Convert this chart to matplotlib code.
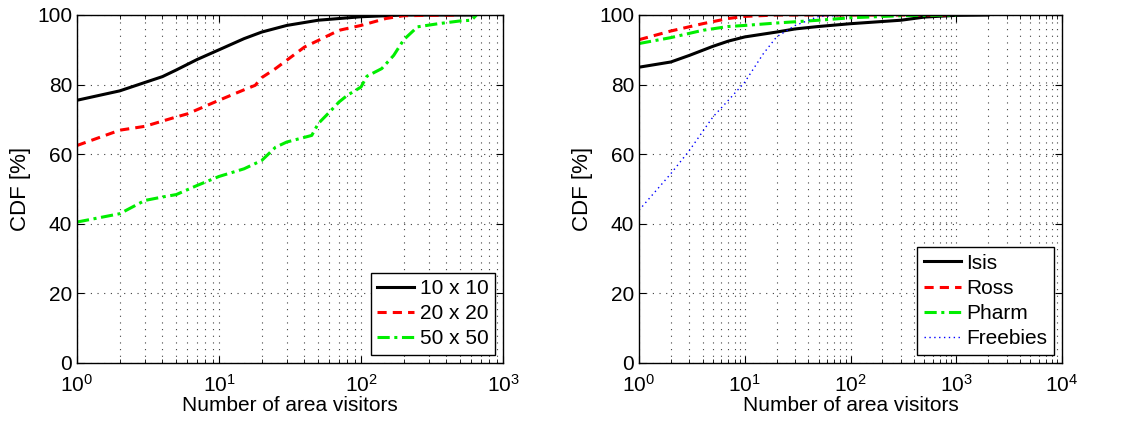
import numpy as np
import matplotlib
matplotlib.use('Agg')
import matplotlib.pyplot as plt
from matplotlib.ticker import LogLocator, NullFormatter

plt.rcParams['font.family'] = ['Liberation Sans', 'DejaVu Sans']
plt.rcParams['mathtext.fontset'] = 'custom'
plt.rcParams['mathtext.rm'] = 'Liberation Sans'

# left panel: grid sizes
x_10 = [1, 2, 3, 4, 5, 7, 10, 15, 20, 30, 50, 100, 200, 600]
y_10 = [75.5, 78.2, 80.6, 82.3, 84.2, 87.2, 90.0, 93.2, 95.1, 97.0, 98.5, 99.5, 100, 100]

x_20 = [1, 2, 3, 5, 6, 10, 15, 18, 20, 25, 30, 40, 50, 70, 100, 150, 200, 500]
y_20 = [62.5, 66.9, 68.0, 70.7, 71.6, 75.5, 78.5, 79.8, 82.0, 84.6, 87.0, 90.8, 92.7, 95.6, 97.0, 99.0, 99.8, 100]

x_50 = [1, 2, 3, 4, 5, 7, 10, 15, 20, 25, 30, 45, 50, 60, 70, 80, 100, 110,
        140, 170, 200, 250, 350, 500, 600, 650]
y_50 = [40.5, 42.9, 46.7, 47.7, 48.4, 51.0, 53.6, 55.8, 58.2, 62.0, 63.5, 65.4,
        68.8, 72.1, 75.0, 76.9, 79.3, 82.4, 84.6, 88.4, 92.9, 96.6, 97.5, 98.3, 98.5, 100]

# right panel: datasets
x_isis = [1, 2, 3, 5, 7, 10, 20, 30, 50, 100, 300, 500, 1000, 2000]
y_isis = [85.0, 86.5, 88.4, 91.0, 92.5, 93.7, 95.1, 96.0, 96.7, 97.5, 98.5, 99.4, 99.9, 100]

x_ross = [1, 2, 4, 7, 10, 20, 100, 800]
y_ross = [92.9, 95.4, 97.5, 99.0, 99.6, 100, 100, 100]

x_pharm = [1, 2, 4, 7, 10, 20, 50, 100, 300, 1000]
y_pharm = [91.8, 93.5, 95.6, 96.7, 97.0, 97.7, 98.5, 99.2, 99.8, 100]

x_free = [1, 2, 3, 5, 7, 10, 15, 20, 30, 50, 100]
y_free = [43.9, 54.4, 61.1, 70.7, 75.5, 80.7, 88.9, 93.7, 97.0, 99.6, 100]

fig = plt.figure(figsize=(11.26, 4.24), dpi=100)
ax1 = fig.add_axes([77 / 1126, 1 - 363 / 424, 426 / 1126, 348 / 424])
ax2 = fig.add_axes([639 / 1126, 1 - 363 / 424, 423 / 1126, 348 / 424])

ax1.plot(x_10, y_10, '-', color='black', lw=2.2, label='10 x 10')
ax1.plot(x_20, y_20, '--', color='red', lw=2.2, dashes=(3, 2), label='20 x 20')
ax1.plot(x_50, y_50, '-.', color='#00ee00', lw=2.2, dashes=(4, 1.5, 1, 1.5), label='50 x 50')

ax2.plot(x_isis, y_isis, '-', color='black', lw=2.2, label='Isis')
ax2.plot(x_ross, y_ross, '--', color='red', lw=2.2, dashes=(3, 2), label='Ross')
ax2.plot(x_pharm, y_pharm, '-.', color='#00ee00', lw=2.2, dashes=(4, 1.5, 1, 1.5), label='Pharm')
ax2.plot(x_free, y_free, ':', color='blue', lw=1.0, dashes=(1, 2.5), label='Freebies')

for ax, xmax in [(ax1, 1e3), (ax2, 1e4)]:
    ax.set_xscale('log')
    ax.set_xlim(1, xmax)
    ax.set_ylim(0, 100)
    ax.set_yticks([0, 20, 40, 60, 80, 100])
    ax.xaxis.set_major_locator(LogLocator(base=10, numticks=10))
    ax.xaxis.set_minor_locator(LogLocator(base=10, subs=np.arange(2, 10), numticks=50))
    ax.xaxis.set_minor_formatter(NullFormatter())
    ax.grid(True, which='major', linestyle=(0, (1, 5)), color='0.25', lw=0.8)
    ax.grid(True, which='minor', axis='x', linestyle=(0, (1, 5)), color='0.25', lw=0.8)
    ax.set_axisbelow(True)
    ax.tick_params(which='both', direction='in', top=True, right=True, labelsize=15)
    ax.tick_params(which='major', length=5)
    ax.tick_params(which='minor', length=3)
    ax.tick_params(axis='x', pad=8)
    ax.set_xlabel('Number of area visitors', fontsize=15, labelpad=0)
    ax.set_ylabel('CDF [%]', fontsize=16)
    for s in ax.spines.values():
        s.set_linewidth(1.0)
    leg = ax.legend(loc='lower right', fontsize=15, fancybox=False, framealpha=1,
                    edgecolor='black', handlelength=1.8, handletextpad=0.25,
                    borderpad=0.3, labelspacing=0.3, borderaxespad=0.4)
    leg.get_frame().set_linewidth(1.0)

plt.savefig('out.png', dpi=100)
